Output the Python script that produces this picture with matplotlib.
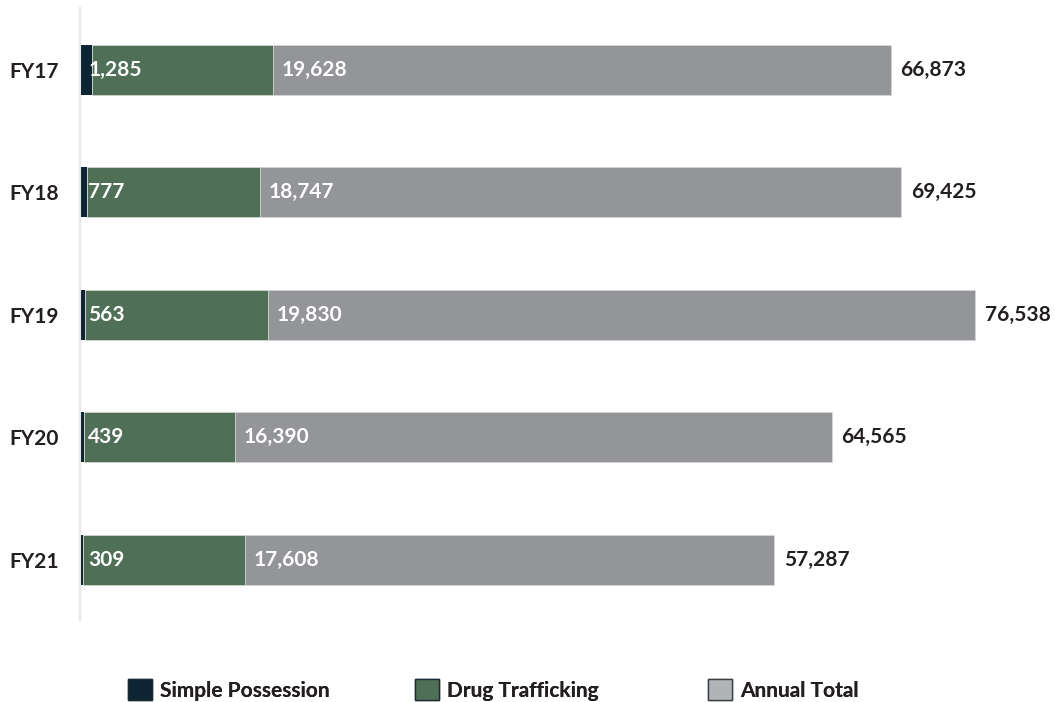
import matplotlib
matplotlib.use("Agg")
import matplotlib.pyplot as plt
from matplotlib.patches import Patch

plt.rcParams['font.family'] = ['Lato', 'DejaVu Sans']

# data
years = ["FY17", "FY18", "FY19", "FY20", "FY21"]
simple_possession = [1285, 777, 563, 439, 309]
drug_trafficking = [19628, 18747, 19830, 16390, 17608]
annual_total = [66873, 69425, 76538, 64565, 57287]
legend_labels = ["Simple Possession", "Drug Trafficking", "Annual Total"]

c_sp = "#0c2433"
c_dt = "#506f57"
c_tot = "#939598"
fs = 15

fig = plt.figure(figsize=(10.55, 7.02), dpi=100)
ax = fig.add_axes([80 / 1055, 82 / 702, 975 / 1055, 612 / 702])

y = list(range(len(years)))
h = 0.41
left2 = simple_possession
left3 = [a + b for a, b in zip(simple_possession, drug_trafficking)]

ax.barh(y, simple_possession, height=h, color=c_sp)
ax.barh(y, drug_trafficking, left=left2, height=h, color=c_dt,
        edgecolor="#dfe5df", linewidth=0.4)
ax.barh(y, annual_total, left=left3, height=h, color=c_tot,
        edgecolor="#dcdcdc", linewidth=0.4)

for i in y:
    ax.annotate(f"{simple_possession[i]:,}", (0, i), xytext=(6, 0),
                textcoords="offset points", va="center", ha="left",
                color="white", fontsize=fs, fontweight="bold")
    ax.annotate(f"{drug_trafficking[i]:,}", (left3[i], i), xytext=(6, 0),
                textcoords="offset points", va="center", ha="left",
                color="white", fontsize=fs, fontweight="bold")
    ax.annotate(f"{annual_total[i]:,}", (left3[i] + annual_total[i], i),
                xytext=(7, 0), textcoords="offset points", va="center",
                ha="left", color="#231f20", fontsize=fs, fontweight="bold")

ax.set_xlim(0, 105600)
ax.set_ylim(4.491, -0.504)
ax.set_yticks(y)
ax.set_yticklabels(years, fontsize=fs, fontweight="bold", color="#231f20")
ax.tick_params(axis="y", length=0, pad=15)
ax.set_xticks([])
for s in ["top", "right", "bottom"]:
    ax.spines[s].set_visible(False)
ax.spines["left"].set_color("#e6e6e6")
ax.spines["left"].set_linewidth(1.5)

# legend: one entry per position, as in the original layout
handles = [
    Patch(facecolor=c_sp, edgecolor="#1c2a33", linewidth=1),
    Patch(facecolor=c_dt, edgecolor="#1c2a33", linewidth=1),
    Patch(facecolor="#b2b3b6", edgecolor="#3a4046", linewidth=1),
]
xpos = [128, 415, 708]
for hd, lb, xp in zip(handles, legend_labels, xpos):
    leg = fig.legend([hd], [lb], loc="center left",
                     bbox_to_anchor=(xp / 1055, 1 - 690 / 702),
                     frameon=False, borderpad=0, borderaxespad=0,
                     handlelength=1.15, handleheight=1.15,
                     handletextpad=0.4,
                     prop={"weight": "bold", "size": fs})
    leg.get_texts()[0].set_color("#231f20")
    fig.add_artist(leg)

fig.savefig("out.png", dpi=100)
